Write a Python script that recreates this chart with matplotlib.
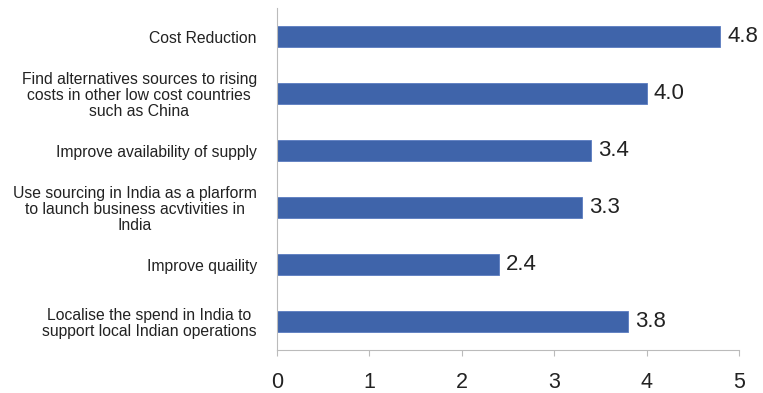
import matplotlib.pyplot as plt

plt.rcParams['font.family'] = ['Liberation Sans', 'DejaVu Sans']

categories = [
    'Cost Reduction',
    'Find alternatives sources to rising\ncosts in other low cost countries\nsuch as China',
    'Improve availability of supply',
    'Use sourcing in India as a plarform\nto launch business acvtivities in\nIndia',
    'Improve quaility',
    'Localise the spend in India to\nsupport local Indian operations',
]
scores = [4.8, 4.0, 3.4, 3.3, 2.4, 3.8]
ticks = [0, 1, 2, 3, 4, 5]

fig = plt.figure(figsize=(7.63, 3.93), dpi=100)
ax = fig.add_axes([0.363, 0.1094, 0.6055, 0.8702])

pos = list(range(len(categories)))
ax.barh(pos, scores, height=0.37, color='#3F64AA', edgecolor='#5A7CC0', linewidth=0.6)
for y, v in zip(pos, scores):
    ax.text(v + 0.08, y, f'{v:.1f}', va='center', ha='left', fontsize=16, color='#222222')

ax.set_ylim(len(categories) - 0.5, -0.5)
ax.set_xlim(0, 5)
ax.set_yticks(pos)
ax.set_yticklabels(categories, fontsize=11.3, linespacing=1.08, ha='right',
                   multialignment='center', color='#222222')
ax.tick_params(axis='y', length=0, pad=14.5)
ax.set_xticks(ticks)
ax.set_xticklabels([str(t) for t in ticks], fontsize=15.5, color='#222222')
ax.tick_params(axis='x', length=4, width=0.8, color='#BBBBBB', pad=12)

for s in ['top', 'right']:
    ax.spines[s].set_visible(False)
for s in ['left', 'bottom']:
    ax.spines[s].set_color('#BBBBBB')
    ax.spines[s].set_linewidth(0.8)

fig.savefig('out.png', dpi=100)
